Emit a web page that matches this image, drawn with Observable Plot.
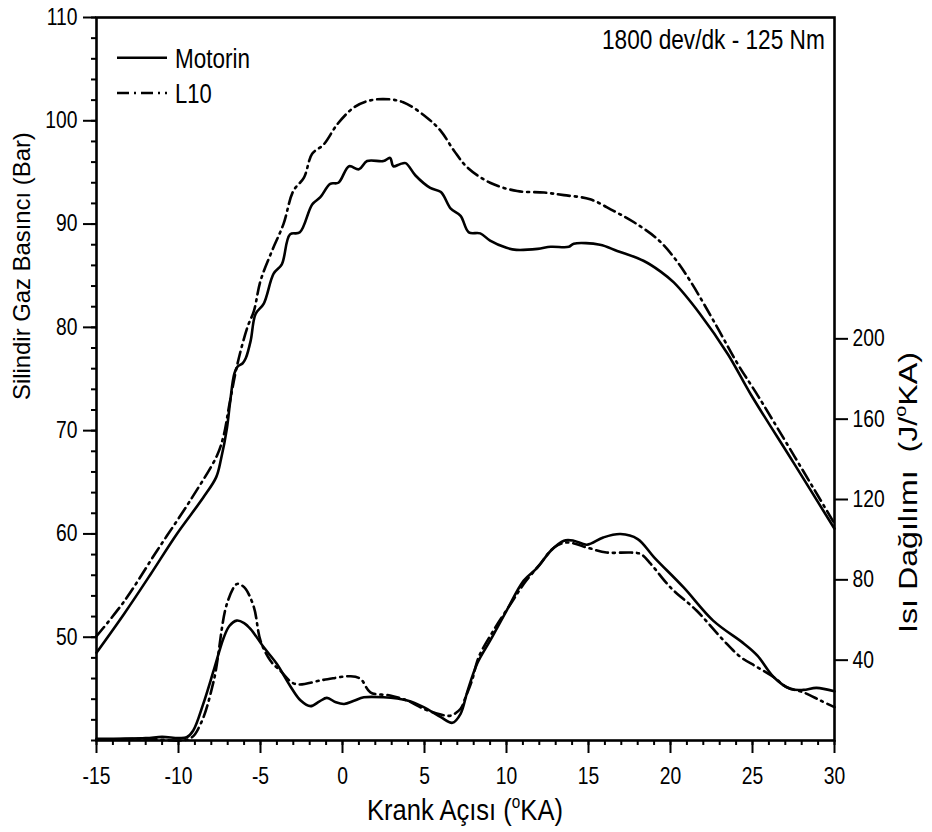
<!DOCTYPE html>
<html>
<head>
<meta charset="utf-8">
<script src="https://cdn.jsdelivr.net/npm/d3@7"></script>
<script src="https://cdn.jsdelivr.net/npm/@observablehq/plot@0.6"></script>
<style>
  html, body { margin: 0; padding: 0; background: #fff; }
  #chart { width: 932px; height: 832px; }
</style>
</head>
<body>
<div id="chart"></div>
<script>
// ---------- data ----------
const crankTicks = [-15, -10, -5, 0, 5, 10, 15, 20, 25, 30];
const pressureTicks = [50, 60, 70, 80, 90, 100, 110];
const heatTicks = [40, 80, 120, 160, 200];
const seriesNames = ["Motorin", "L10"];

// Cylinder gas pressure (Bar) – Motorin
const motorinPressureX = [-15, -13.3, -11.7, -10.1, -8.5, -7.7, -7.4, -7.05, -6.85, -6.6, -6.4, -6.1, -5.9, -5.6, -5.3, -4.8, -4.2, -3.7, -3.2, -2.6, -1.85, -1.35, -0.75, -0.25, 0.4, 1.0, 1.5, 2.5, 2.9, 3.1, 3.5, 3.85, 4.45, 5.35, 6.0, 6.6, 7.2, 7.7, 8.4, 9.0, 10.0, 10.6, 11.9, 12.7, 13.8, 14.1, 15.7, 16.75, 18.35, 19.4, 20.2, 21.8, 23.5, 24.9, 27.5, 30];
const motorinPressureY = [48.5, 52.3, 56.1, 60.0, 63.5, 65.5, 67.3, 70.2, 72.8, 75.5, 76.2, 76.5, 77.0, 78.7, 81.3, 82.3, 85.2, 86.1, 89.0, 89.2, 91.9, 92.6, 93.9, 94.0, 95.6, 95.3, 96.1, 96.1, 96.4, 95.6, 95.8, 95.9, 94.7, 93.5, 93.1, 91.5, 90.8, 89.2, 89.1, 88.4, 87.7, 87.5, 87.6, 87.8, 87.8, 88.1, 88.0, 87.4, 86.45, 85.4, 84.35, 81.3, 77.4, 73.5, 66.9, 60.5];

// Cylinder gas pressure (Bar) – L10
const l10PressureX = [-15, -13.3, -11.3, -9.3, -7.65, -7.25, -6.9, -6.4, -5.8, -5.4, -5.0, -4.3, -3.6, -3.0, -2.35, -1.85, -1.15, -0.3, 0.7, 1.5, 2.5, 3.7, 5.15, 6.0, 6.8, 7.6, 9.0, 10.65, 12.3, 13.5, 15.1, 16.5, 17.75, 19.2, 20.2, 21.2, 22.85, 24.1, 25.4, 30];
const l10PressureY = [50.1, 53.5, 58.4, 63.2, 67.6, 69.5, 72.5, 76.5, 80.0, 81.6, 84.5, 87.4, 90.0, 93.2, 94.5, 96.8, 97.7, 99.7, 101.3, 101.9, 102.1, 101.8, 100.3, 99.0, 97.1, 95.5, 94.0, 93.2, 93.05, 92.8, 92.4, 91.3, 90.2, 88.55, 86.8, 84.5, 80.0, 76.45, 73.2, 61.0];

// Heat release rate (J/°KA) – Motorin
const motorinHeatX = [-15, -12, -11, -10, -9.5, -9.1, -8.5, -7.85, -7.25, -6.9, -6.45, -6.0, -5.6, -4.8, -4.0, -3.2, -2.55, -1.95, -1.4, -0.95, -0.4, 0.1, 0.7, 1.3, 2.5, 3.95, 4.95, 6.0, 6.7, 7.2, 7.6, 8.2, 9.0, 10.0, 11.05, 11.9, 12.7, 13.5, 14.1, 14.9, 15.9, 16.95, 18.0, 19.0, 20.8, 22.6, 24.5, 25.3, 26.3, 27.3, 28.1, 28.9, 30];
const motorinHeatY = [0.8, 1.2, 1.8, 1.2, 1.6, 5, 18, 35, 51, 57, 59.7, 58.5, 55.5, 46.4, 38.1, 27.3, 19.9, 17.1, 19.5, 21.2, 19.0, 18.2, 19.8, 21.5, 21.5, 19.9, 16.6, 11.6, 8.8, 13.3, 24.0, 38.1, 49.7, 64.6, 79.6, 86.2, 94.5, 99.5, 99.5, 97.5, 101.1, 102.8, 100.3, 91.2, 76.2, 59.7, 48.1, 42.3, 31.5, 25.7, 25.2, 26.2, 24.5];

// Heat release rate (J/°KA) – L10
const l10HeatX = [-15, -12, -9.3, -8.65, -7.85, -7.05, -6.45, -6.2, -5.9, -5.4, -5.0, -4.4, -3.8, -2.9, -1.15, 0.5, 1.1, 1.7, 2.9, 3.95, 4.95, 6.0, 6.6, 7.2, 7.5, 7.9, 8.3, 9.2, 10.25, 11.05, 12.05, 12.9, 13.7, 14.9, 16.1, 17.6, 18.2, 18.8, 20.0, 21.6, 23.25, 24.3, 25.3, 26.3, 27.1, 28.1, 29.15, 30];
const l10HeatY = [0.5, 0.8, 1.0, 8.3, 29.8, 68, 77.9, 77.5, 75.4, 66.3, 49.7, 39.8, 34.8, 28.2, 30.2, 32.0, 30.7, 24.0, 22.4, 19.9, 15.8, 12.9, 12.4, 15.8, 21.5, 30.0, 41.4, 54.7, 68.0, 77.9, 87.9, 96.1, 98.6, 96.1, 93.6, 93.6, 92.8, 87.9, 76.2, 64.6, 49.7, 41.4, 36.5, 31.5, 26.5, 24.0, 19.9, 16.6];

// ---------- scales ----------
const pressureDomain = [40, 110];
const heatDomain = [0, 360];
// map heat-release values onto the pressure (left) scale for the twin axis
const heatToP = v => pressureDomain[0] + (v - heatDomain[0]) * (pressureDomain[1] - pressureDomain[0]) / (heatDomain[1] - heatDomain[0]);
const pToHeat = p => heatDomain[0] + (p - pressureDomain[0]) * (heatDomain[1] - heatDomain[0]) / (pressureDomain[1] - pressureDomain[0]);

const zip = (xs, ys, f = v => v) => xs.map((x, i) => ({x, y: f(ys[i])}));
const mP = zip(motorinPressureX, motorinPressureY);
const lP = zip(l10PressureX, l10PressureY);
const mH = zip(motorinHeatX, motorinHeatY, heatToP);
const lH = zip(l10HeatX, l10HeatY, heatToP);

const FONT = "'Liberation Sans', Arial, sans-serif";
const DASH = "12,5,2,5";
const LW = 2.6;
const SQUEEZE = 0.84;

const svg = Plot.plot({
  width: 932,
  height: 832,
  marginLeft: 96,
  marginRight: 98,
  marginTop: 17,
  marginBottom: 92,
  style: {fontFamily: FONT, fontSize: "23px", background: "#fff", color: "#000", overflow: "visible"},
  x: {domain: [-15, 30]},
  y: {domain: pressureDomain},
  marks: [
    Plot.line(mP, {x: "x", y: "y", stroke: "#000", strokeWidth: LW, curve: "catmull-rom"}),
    Plot.line(lP, {x: "x", y: "y", stroke: "#000", strokeWidth: LW, strokeDasharray: DASH, curve: "catmull-rom"}),
    Plot.line(mH, {x: "x", y: "y", stroke: "#000", strokeWidth: LW, curve: "catmull-rom"}),
    Plot.line(lH, {x: "x", y: "y", stroke: "#000", strokeWidth: LW, strokeDasharray: DASH, curve: "catmull-rom"}),
    // x axis: minor & major ticks
    Plot.axisX(d3.range(-15, 31, 1), {tickSize: 5, strokeWidth: 2, tickFormat: () => "", label: null}),
    Plot.axisX(crankTicks, {tickSize: 13, strokeWidth: 2, tickPadding: 14, fontSize: 23, tickFormat: d => String(d), label: null}),
    // left axis
    Plot.axisY(d3.range(40, 111, 2), {anchor: "left", tickSize: 5, strokeWidth: 2, tickFormat: () => "", label: null}),
    Plot.axisY(pressureTicks, {anchor: "left", tickSize: 13, strokeWidth: 2, tickPadding: 6, fontSize: 23, tickFormat: d => String(d), label: null}),
    // right axis (heat release)
    Plot.axisY(heatTicks.map(heatToP), {anchor: "right", tickSize: 13, strokeWidth: 2, tickPadding: 5, fontSize: 23, tickFormat: d => String(Math.round(pToHeat(d))), label: null}),
    Plot.frame({stroke: "#000", strokeWidth: 2.6})
  ]
});

document.getElementById("chart").appendChild(svg);
const root = d3.select(svg);

// condense tick labels horizontally like the reference
root.selectAll("g[aria-label$='tick label'] text").each(function () {
  const t = this.getAttribute("transform") || "";
  this.setAttribute("transform", (t + " scale(" + SQUEEZE + ",1)").trim());
});

// text scaled along its direction to a target length (uniform, so tspans never collide)
function label(parts, {x, y, rotate = 0, size, length}) {
  const g = root.append("g").attr("transform", `translate(${x},${y}) rotate(${rotate})`);
  const t = g.append("text").attr("fill", "#000").attr("text-anchor", "start").attr("font-size", size);
  parts.forEach(p => {
    const s = t.append("tspan").text(p.text);
    if (p.sup) s.attr("font-size", p.sup).attr("dy", -p.rise);
    if (p.down) s.attr("dy", p.down);
  });
  const w = t.node().getComputedTextLength();
  if (w > 0 && length) t.attr("transform", `scale(${length / w},1)`);
  return t;
}

// axis titles
label([{text: "Silindir Gaz Basıncı (Bar)"}], {x: 30, y: 400, rotate: -90, size: 23.5, length: 268});
label([{text: "Isı Dağılımı  (J/"}, {text: "o", sup: 16, rise: 11}, {text: "KA)", down: 11}],
  {x: 917, y: 633, rotate: -90, size: 26, length: 281});
label([{text: "Krank Açısı ("}, {text: "o", sup: 18, rise: 12}, {text: "KA)", down: 12}],
  {x: 367, y: 820, size: 30, length: 196});

// annotation
label([{text: "1800 dev/dk - 125 Nm"}], {x: 602, y: 49, size: 27, length: 223});

// legend
const legendWidths = [75, 36.7];
seriesNames.forEach((name, i) => {
  const y = 57.7 + i * 35.3;
  root.append("line")
    .attr("x1", 117).attr("x2", 167).attr("y1", y).attr("y2", y)
    .attr("stroke", "#000").attr("stroke-width", LW)
    .attr("stroke-dasharray", i === 0 ? null : DASH);
  label([{text: name}], {x: 175, y: y + 10.3, size: 28, length: legendWidths[i]});
});
</script>
</body>
</html>
